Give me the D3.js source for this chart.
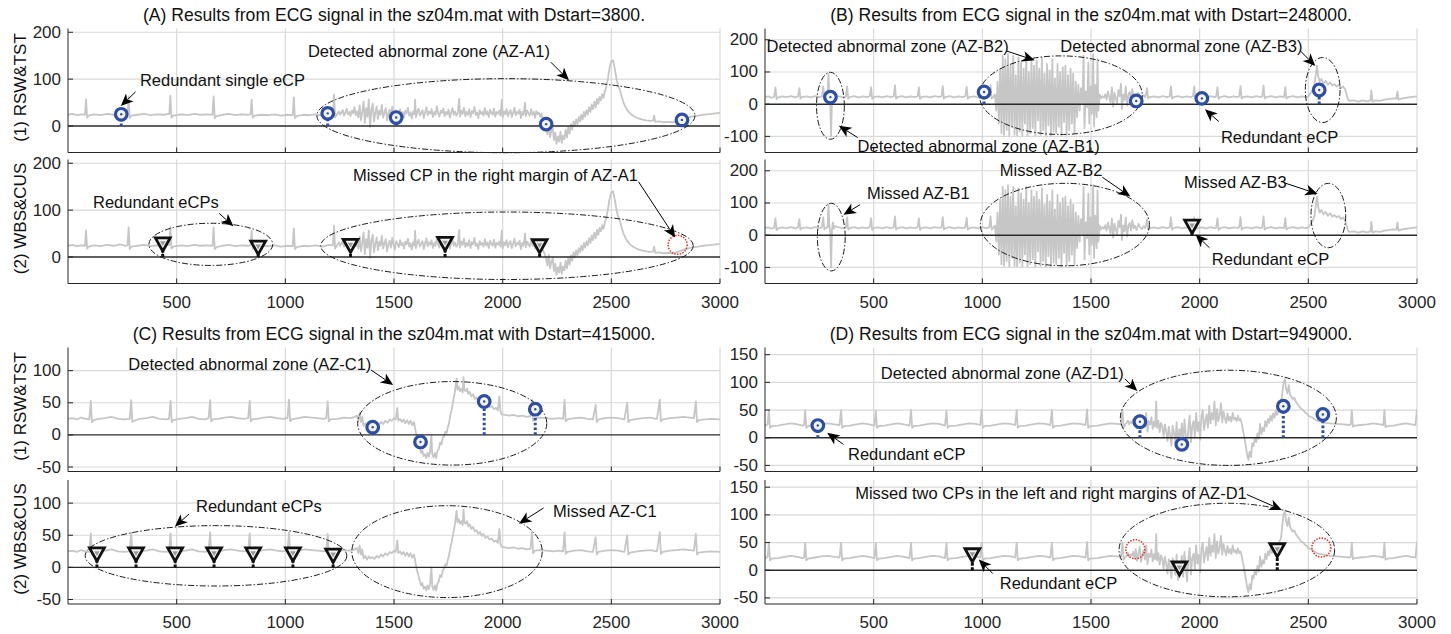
<!DOCTYPE html>
<html>
<head>
<meta charset="utf-8">
<script src="https://cdn.jsdelivr.net/npm/d3@7"></script>
<style>
  html, body { margin: 0; padding: 0; background: #fff; }
  svg { display: block; font-family: "Liberation Sans", Arial, Helvetica, sans-serif; }
</style>
</head>
<body>
<svg id="fig" width="1451" height="634"></svg>
<script>
// ---------------------------------------------------------------------------
// ECG excerpts (sample index, amplitude), one record per panel
// ---------------------------------------------------------------------------
const sigA = [
  [0,24],[20,26],[40,23],[60,25],[78,24],[83,57],[88,18],[95,22],[120,25],[150,23],[180,26],[210,24],[240,27],[260,24],[274,25],[279,63],[284,17],[292,22],
  [320,24],[350,26],[380,23],[410,25],[440,24],[466,26],[471,64],[476,18],[484,22],[520,25],[550,23],[580,26],[610,24],[640,25],[665,24],[670,63],[675,17],[683,21],
  [710,24],[740,26],[770,23],[800,25],[825,24],[840,25],[845,56],[850,18],[858,22],[890,24],[920,23],[950,25],[980,22],[1010,24],[1034,23],[1039,61],[1044,17],[1052,21],
  [1080,24],[1110,23],[1140,25],[1170,22],[1200,26],[1219,25],[1224,67],[1229,18],[1237,24],
  [1240,27],[1246,31],[1252,24],[1258,29],[1264,34],[1270,22],[1276,28],[1282,37],[1288,25],[1294,30],[1300,21],[1306,33],[1312,27],[1318,40],[1324,23],[1330,31],[1336,18],
  [1342,44],[1348,12],[1354,30],[1360,52],[1366,6],[1372,38],[1378,20],[1384,57],[1390,-2],[1396,35],[1402,48],[1408,10],[1414,28],[1420,42],
  [1426,15],[1432,33],[1438,24],[1444,45],[1450,18],[1456,29],[1462,38],[1468,12],[1474,27],[1480,35],[1486,20],[1492,41],[1498,26],[1504,16],[1510,34],[1516,28],
  [1522,21],[1528,36],[1534,25],[1540,30],[1546,18],[1552,33],[1558,27],[1564,39],[1570,22],[1576,29],[1582,16],[1588,31],[1594,25],[1597,56],[1601,19],[1607,30],
  [1613,37],[1619,22],[1625,28],[1631,34],[1637,17],[1643,29],[1649,40],[1655,23],[1661,31],[1667,26],[1673,36],[1679,19],[1685,30],[1691,24],[1697,42],[1703,27],
  [1709,20],[1715,33],[1721,28],[1727,37],[1733,21],[1739,30],[1745,25],[1751,35],[1757,18],[1763,29],[1769,38],[1775,24],[1781,31],[1787,22],[1793,27],[1800,58],
  [1804,20],[1810,33],[1816,26],[1822,39],[1828,21],[1834,30],[1840,24],[1846,36],[1852,19],[1858,32],[1864,27],[1870,41],[1876,23],[1882,29],[1888,17],[1894,34],
  [1900,26],[1906,30],[1912,22],[1918,38],[1924,25],[1930,31],[1936,19],[1942,35],[1948,28],[1954,24],[1960,37],[1966,20],[1972,30],[1978,26],[1984,33],[1990,22],
  [1996,56],[2000,18],[2006,31],[2012,25],[2018,36],[2024,21],[2030,29],[2036,34],[2042,19],[2048,28],[2054,39],[2060,23],[2066,30],[2072,26],[2078,35],[2084,17],
  [2090,30],[2096,24],[2103,50],[2107,21],[2113,33],[2119,27],[2125,22],[2131,36],[2137,24],[2143,30],[2149,18],[2155,32],[2161,25],[2167,29],[2173,19],[2179,27],[2185,14],
  [2194,6],[2200,-4],[2206,-18],[2212,5],[2218,-24],[2224,-10],[2230,-2],[2236,-30],[2242,-14],[2248,-38],[2254,-22],[2260,-33],[2266,-12],[2272,-36],[2278,-20],
  [2284,-28],[2290,-8],[2296,-24],[2302,-2],[2308,-16],[2314,4],[2320,-8],[2326,10],[2332,0],[2338,14],[2344,4],[2350,19],[2356,10],[2362,24],[2368,14],[2374,30],
  [2380,20],[2386,34],[2392,25],[2398,40],[2404,30],[2410,46],[2416,36],[2422,52],[2428,40],[2434,58],[2440,47],[2446,62],[2452,55],[2458,68],[2464,60],[2470,74],
  [2476,82],[2484,100],[2492,125],[2500,138],[2508,140],[2516,122],[2524,100],[2532,85],[2540,76],[2548,62],[2556,50],[2564,42],[2572,35],
  [2584,28],[2600,22],[2620,17],[2640,14],[2660,12],[2680,11],[2693,12],[2697,22],[2702,9],[2720,10],[2740,8],[2760,9],[2780,8],[2800,10],[2820,13],[2840,17],
  [2860,19],[2880,21],[2900,22],[2920,24],[2940,25],[2960,26],[2980,27],[3000,28]
];

const sigB = [
  [0,22],[15,24],[30,20],[42,23],[48,52],[53,16],[60,21],[80,24],[100,22],[120,25],[140,21],[152,24],[158,50],[163,17],[170,22],[190,24],[210,21],[230,25],[250,22],
  [262,24],[268,55],[273,18],[280,22],[288,25],[292,95],[296,30],[300,10],[304,-100],[308,15],[312,40],[316,20],[322,28],
  [340,24],[360,21],[372,24],[378,55],[383,17],[390,22],[410,25],[430,21],[450,24],[470,22],[482,25],[488,53],[493,16],[500,22],[520,24],[540,21],[560,25],[580,22],
  [592,24],[598,58],[603,17],[610,22],[630,25],[650,21],[670,24],[690,22],[702,24],[708,52],[713,16],[720,22],[740,24],[760,21],[780,25],[800,23],[812,24],[818,56],
  [823,17],[830,22],[850,25],[870,21],[890,24],[910,22],[922,25],[928,54],[933,17],[940,22],[960,24],[980,21],[1000,25],[1020,22],[1032,24],[1038,58],[1043,17],[1050,22],
  [1058,30],[1064,-20],[1070,70],[1076,-60],[1082,110],[1088,-90],[1094,150],[1100,-95],[1106,140],[1112,-80],[1118,155],[1124,-97],[1130,120],[1136,-70],[1142,150],
  [1148,-95],[1154,90],[1160,-97],[1166,145],[1172,-85],[1178,130],[1184,-97],[1190,110],[1196,-60],[1202,150],[1208,-97],[1214,100],[1220,-90],[1226,140],[1232,-75],
  [1238,120],[1244,-97],[1250,135],[1256,-50],[1262,110],[1268,-95],[1274,145],[1280,-80],[1286,95],[1292,-97],[1298,125],[1304,-65],[1310,105],[1316,-97],[1322,140],
  [1328,-85],[1334,80],[1340,-90],[1346,125],[1352,-70],[1358,100],[1364,-97],[1370,115],[1376,-55],[1382,120],[1388,-95],[1394,90],[1400,-80],[1406,110],[1412,-60],
  [1418,95],[1424,-90],[1430,70],[1436,-40],[1442,60],[1448,-20],[1454,50],[1460,0],[1466,150],[1470,-75],[1476,40],[1482,-10],[1488,130],[1492,-60],[1498,55],
  [1504,-30],[1510,155],[1514,-70],[1520,60],[1526,-40],[1530,140],[1534,-20],[1540,30],[1546,18],[1552,25],
  [1560,20],[1566,31],[1572,14],[1578,40],[1584,22],[1590,5],[1596,52],[1602,-8],[1608,36],[1614,18],[1620,2],[1626,44],[1632,25],[1638,64],[1642,-15],[1648,30],
  [1654,12],[1660,55],[1666,-4],[1672,28],[1678,38],[1684,14],[1690,47],[1696,21],[1702,30],[1710,16],[1718,35],[1726,24],[1734,19],[1742,28],[1750,22],[1758,50],
  [1763,18],[1770,22],[1790,24],[1810,21],[1830,25],[1850,22],[1862,24],[1868,55],[1873,17],[1880,22],[1900,25],[1920,21],[1940,24],[1960,22],[1969,24],[1975,55],
  [1980,17],[1988,22],[2010,24],[2030,21],[2050,25],[2070,22],[2076,24],[2082,52],[2087,16],[2094,22],[2115,25],[2135,21],[2155,24],[2175,22],[2182,25],[2188,56],
  [2193,17],[2200,22],[2220,24],[2240,21],[2260,25],[2280,22],[2288,24],[2294,58],[2299,17],[2306,22],[2330,25],[2350,21],[2370,24],[2388,22],[2394,53],[2399,17],
  [2406,22],[2430,25],[2450,21],[2470,24],[2490,22],[2500,24],[2510,35],[2520,45],[2528,60],[2534,90],[2540,120],[2546,85],[2552,70],[2560,78],[2570,65],[2580,72],
  [2590,60],[2600,68],[2610,58],[2620,62],[2630,55],[2640,60],[2650,50],[2660,55],[2670,45],[2676,30],[2682,15],[2690,10],[2710,12],[2730,8],[2750,12],[2770,9],
  [2786,12],[2790,42],[2795,8],[2810,12],[2830,10],[2850,14],[2870,16],[2890,18],[2905,17],[2910,40],[2915,14],[2930,18],[2950,20],[2970,22],[3000,24]
];

const sigC = [
  [0,25],[20,26],[40,24],[60,27],[80,25],[98,24],[105,53],[110,20],[118,23],[140,25],[170,26],[200,28],[230,25],[260,24],[284,25],[291,54],[296,20],[304,22],
  [330,25],[360,26],[390,28],[420,25],[450,24],[465,25],[472,53],[477,20],[485,23],[510,25],[540,26],[570,28],[600,25],[630,24],[647,26],[654,54],[659,21],[667,24],
  [690,25],[720,27],[750,28],[780,26],[810,25],[829,26],[836,53],[841,21],[849,24],[870,25],[900,27],[930,28],[960,26],[990,25],[1010,26],[1017,55],[1022,21],[1030,24],
  [1060,26],[1090,28],[1120,27],[1150,26],[1175,25],[1188,26],[1195,52],[1200,21],[1208,24],[1240,25],[1270,27],[1300,26],[1320,28],
  [1330,30],[1336,22],[1342,34],[1348,20],[1354,28],[1360,14],[1368,18],[1376,12],[1384,17],[1392,14],[1400,16],[1410,13],[1420,18],[1430,15],[1440,20],[1450,17],
  [1460,22],[1470,19],[1480,24],[1490,22],[1500,26],[1508,24],[1515,42],[1520,22],[1528,25],[1536,20],[1544,24],[1552,18],[1560,23],[1568,17],[1576,22],[1584,15],
  [1592,20],[1600,5],[1606,-5],[1612,-12],[1618,-20],[1624,-28],[1630,-24],[1636,-33],[1642,-30],[1648,-36],[1654,-28],[1660,-34],[1666,-26],[1672,0],[1676,-30],
  [1682,-35],[1688,-28],[1694,-36],[1700,-25],[1706,-22],[1712,-12],[1718,-15],[1724,-5],[1730,-2],[1736,5],[1742,3],[1748,12],[1754,20],[1760,32],[1766,40],
  [1772,52],[1778,62],[1784,78],[1788,88],[1792,70],[1798,75],[1804,68],[1810,72],[1816,66],[1820,90],[1824,70],[1830,68],[1836,72],[1842,64],[1848,67],[1856,60],
  [1864,63],[1872,56],[1880,58],[1888,52],[1896,55],[1904,49],[1912,52],[1920,46],[1930,48],[1940,43],[1950,45],[1960,40],[1970,42],[1978,38],[1985,60],[1990,36],
  [1996,32],[2010,31],[2030,30],[2050,31],[2070,29],[2090,30],[2110,28],[2128,29],[2135,55],[2140,22],[2148,26],[2170,27],[2200,26],[2230,25],[2260,26],[2278,25],
  [2285,55],[2290,21],[2298,24],[2330,26],[2360,27],[2390,25],[2415,24],[2428,47],[2433,20],[2441,24],[2470,26],[2500,27],[2530,26],[2560,24],[2573,50],[2578,20],
  [2586,23],[2620,25],[2650,26],[2680,27],[2710,25],[2723,55],[2728,21],[2736,24],[2770,26],[2800,27],[2830,28],[2860,27],[2880,26],[2889,52],[2894,20],[2902,23],
  [2930,24],[2960,25],[3000,24]
];

const sigD = [
  [0,22],[12,24],[18,50],[23,18],[31,21],[60,22],[90,24],[120,26],[150,24],[172,22],[180,23],[185,50],[190,18],[198,21],[230,23],[260,25],[290,26],[320,24],[343,23],
  [350,50],[355,18],[363,21],[390,22],[420,24],[450,26],[480,24],[503,22],[510,49],[515,18],[523,21],[550,22],[580,24],[610,26],[640,24],[665,22],[672,50],[677,18],
  [685,21],[710,22],[740,24],[770,26],[800,25],[828,22],[835,49],[840,18],[848,21],[880,22],[910,24],[940,26],[970,25],[990,23],[997,50],[1002,18],[1010,21],
  [1040,22],[1070,24],[1100,26],[1130,25],[1151,23],[1158,50],[1163,18],[1171,21],[1200,22],[1230,24],[1260,26],[1290,25],[1313,23],[1320,50],[1325,18],[1333,21],
  [1360,22],[1390,24],[1420,26],[1450,25],[1475,23],[1482,51],[1487,18],[1495,21],[1530,22],[1560,24],[1590,26],[1620,25],[1638,24],[1645,50],[1650,19],[1658,24],
  [1664,27],[1670,31],[1676,24],[1682,29],[1688,26],[1694,33],[1700,22],[1706,38],[1712,17],[1718,30],[1724,42],[1730,15],[1736,28],[1742,36],[1748,19],[1754,45],
  [1760,11],[1766,30],[1772,24],[1778,37],[1784,16],[1790,29],[1795,20],[1800,65],[1804,18],[1810,31],[1816,10],[1822,27],[1828,20],[1834,3],[1840,24],[1846,12],
  [1852,-6],[1858,20],[1864,5],[1870,-14],[1876,22],[1882,8],[1888,-8],[1894,28],[1900,-18],[1906,15],[1912,2],[1918,26],[1924,-12],[1930,33],[1936,5],[1942,-20],
  [1948,18],[1954,40],[1960,-8],[1966,22],[1972,30],[1978,2],[1984,45],[1990,12],[1996,28],[2002,-4],[2008,38],[2014,50],[2020,14],[2026,30],[2032,42],[2038,18],
  [2044,58],[2050,26],[2056,45],[2062,33],[2068,65],[2074,22],[2080,52],[2086,30],[2092,40],[2098,62],[2104,28],[2110,47],[2116,35],[2122,27],[2128,44],[2134,31],
  [2140,38],[2146,29],[2152,45],[2158,33],[2164,36],[2170,30],[2176,40],[2182,31],[2188,34],[2194,25],[2200,12],[2206,0],[2212,-15],[2218,-30],[2224,-40],[2230,-25],
  [2236,-35],[2242,-10],[2248,-15],[2254,0],[2260,-8],[2266,8],[2272,-2],[2278,25],[2284,6],[2290,18],[2296,12],[2302,30],[2308,20],[2314,34],[2320,27],[2326,40],
  [2332,31],[2338,44],[2344,36],[2350,50],[2356,41],[2362,47],[2368,53],[2374,57],[2380,80],[2386,100],[2392,106],[2398,88],[2404,80],[2410,95],[2416,78],[2422,74],
  [2428,70],[2436,72],[2444,64],[2452,60],[2460,56],[2468,52],[2476,50],[2484,46],[2492,44],[2500,40],[2510,38],[2520,36],[2530,33],[2545,30],[2560,29],[2580,27],
  [2600,26],[2630,25],[2660,24],[2690,23],[2695,24],[2700,50],[2705,20],[2713,22],[2740,23],[2770,24],[2800,26],[2830,24],[2845,23],[2850,50],[2855,19],[2863,21],
  [2890,22],[2920,24],[2950,26],[2975,24],[2993,23],[3000,52]
];

// Estimated change points: RSW&TST (blue circles), WBS&CUS (triangles), missed CPs (red)
const cpA1 = [[245,25],[1195,27],[1510,18],[2200,4],[2825,13]];
const cpA2 = [[436,28],[875,21],[1300,25],[1735,29],[2170,24]];
const missA2 = [[2805,26]];
const cpB1 = [[301,22],[1008,38],[1708,10],[2010,18],[2550,44]];
const cpB2 = [[1965,28]];
const cpC1 = [[1402,12],[1622,-11],[1915,52],[2150,40]];
const cpC2 = [[133,21],[313,21],[493,21],[672,21],[852,21],[1035,21],[1220,19]];
const cpD1 = [[243,22],[1725,29],[1918,-12],[2385,57],[2567,42]];
const cpD2 = [[954,28],[1907,4],[2357,37]];
const missD2 = [[1704,38],[2560,41]];

// Axis ticks
const xTicks = [500, 1000, 1500, 2000, 2500, 3000];
const yTicksA = [0, 100, 200];
const yTicksB = [-100, 0, 100, 200];
const yTicksC = [-50, 0, 50, 100];
const yTicksD = [-50, 0, 50, 100, 150];

// Zone outlines [cx, cy, rx, ry] in data units
const zonesA1 = [[2015,22,870,79]];
const zonesA2 = [[657,27,285,45],[2020,24,857,72]];
const zonesB1 = [[301,-5,64,104],[1361,28,375,122],[2566,44,80,101]];
const zonesB2 = [[305,-6,64,105],[1380,33,389,128],[2592,61,80,100]];
const zonesC1 = [[1768,18,435,65]];
const zonesC2 = [[681,18,602,47],[1744,24.5,438,71.5]];
const zonesD1 = [[2132,36,497,86]];
const zonesD2 = [[2125,36.5,496,84.5]];

// Callouts: label start (x, y) and arrow [tailX, tailY, headX, headY], data units
const notesA1 = [
  {t: "Redundant single eCP", x: 331, y: 97.5, a: [311, 73, 243, 42.5]},
  {t: "Detected abnormal zone (AZ-A1)", x: 1104, y: 161, a: [2222, 136, 2305, 97.5]}
];
const notesA2 = [
  {t: "Redundant eCPs", x: 115, y: 117.8, a: [696, 93, 761, 65.5]},
  {t: "Missed CP in the right margin of AZ-A1", x: 1311, y: 175, a: [2625, 160.6, 2794, 41.5]}
];
const notesB1 = [
  {t: "Detected abnormal zone (AZ-B2)", x: 7, y: 180.7, a: [1112, 165, 1241, 136.3]},
  {t: "Detected abnormal zone (AZ-B3)", x: 1359, y: 180.7, a: [2464, 165, 2532, 118.7]},
  {t: "Detected abnormal zone (AZ-B1)", x: 426, y: -129, a: [426, -103.5, 340, -67]},
  {t: "Redundant eCP", x: 2098, y: -101, a: [2088, -54, 2024, -15.5]}
];
const notesB2 = [
  {t: "Missed AZ-B1", x: 469, y: 130.5, a: [437, 94.5, 361, 63.7]},
  {t: "Missed AZ-B2", x: 1080, y: 202, a: [1552, 180, 1681, 120]},
  {t: "Missed AZ-B3", x: 1927.5, y: 166, a: [2388, 163, 2543, 128]},
  {t: "Redundant eCP", x: 2056, y: -75, a: [2045, -39, 1981, 2]}
];
const notesC1 = [
  {t: "Detected abnormal zone (AZ-C1)", x: 277.5, y: 111, a: [1394, 101, 1496, 77.6]}
];
const notesC2 = [
  {t: "Redundant eCPs", x: 589, y: 96, a: [557, 83.1, 492, 63.5]},
  {t: "Missed AZ-C1", x: 2232, y: 88, a: [2188, 92.4, 2075, 68]}
];
const notesD1 = [
  {t: "Detected abnormal zone (AZ-D1)", x: 533, y: 117.5, a: [1655, 106.7, 1713, 84.3]},
  {t: "Redundant eCP", x: 382, y: -30, a: [361, -12, 286, 9]}
];
const notesD2 = [
  {t: "Missed two CPs in the left and right margins of AZ-D1", x: 415, y: 140, a: [2217, 136.8, 2378, 109]},
  {t: "Redundant eCP", x: 1080, y: -22.8, a: [1048, -6, 983.5, 19.3]}
];

// ---------------------------------------------------------------------------
// Figure layout
// ---------------------------------------------------------------------------
const FONT_NOTE = 16.5, FONT_TICK = 17, FONT_TITLE = 17.6, FONT_YLAB = 17;
const colX = [[68, 720], [765, 1417]];
const rowY = [[[28.5, 152.5], [159.5, 283.5]], [[347.5, 471.5], [480, 604]]];
const titleY = [15, 334];
const subLabels = ["(1) RSW&TST", "(2) WBS&CUS"];

const panels = [
  {title: "(A) Results from ECG signal in the sz04m.mat with Dstart=3800.", col: 0, row: 0, yDomain: [-56.5, 208], yTicks: yTicksA, signal: sigA,
   subs: [{cp: cpA1, kind: "rsw", miss: [], zones: zonesA1, notes: notesA1},
          {cp: cpA2, kind: "wbs", miss: missA2, zones: zonesA2, notes: notesA2}]},
  {title: "(B) Results from ECG signal in the sz04m.mat with Dstart=248000.", col: 1, row: 0, yDomain: [-150, 235], yTicks: yTicksB, signal: sigB,
   subs: [{cp: cpB1, kind: "rsw", miss: [], zones: zonesB1, notes: notesB1},
          {cp: cpB2, kind: "wbs", miss: [], zones: zonesB2, notes: notesB2}]},
  {title: "(C) Results from ECG signal in the sz04m.mat with Dstart=415000.", col: 0, row: 1, yDomain: [-57, 136], yTicks: yTicksC, signal: sigC,
   subs: [{cp: cpC1, kind: "rsw", miss: [], zones: zonesC1, notes: notesC1},
          {cp: cpC2, kind: "wbs", miss: [], zones: zonesC2, notes: notesC2}]},
  {title: "(D) Results from ECG signal in the sz04m.mat with Dstart=949000.", col: 1, row: 1, yDomain: [-61, 163], yTicks: yTicksD, signal: sigD,
   subs: [{cp: cpD1, kind: "rsw", miss: [], zones: zonesD1, notes: notesD1},
          {cp: cpD2, kind: "wbs", miss: missD2, zones: zonesD2, notes: notesD2}]}
];

const C = {
  signal: "#c6c6c6", grid: "#d9d9d9", axis: "#262626", zero: "#2a2a2a",
  blue: "#2c4ea3", tri: "#111111", miss: "#e3261f", ink: "#111111"
};

const svg = d3.select("#fig");
svg.append("rect").attr("width", 1451).attr("height", 634).attr("fill", "#fff");
const defs = svg.append("defs");

function arrow(g, x1, y1, x2, y2) {
  const ang = Math.atan2(y2 - y1, x2 - x1);
  const L = 12.5, w = 5.5, notch = 3.4;
  const ca = Math.cos(ang), sa = Math.sin(ang);
  const pt = (u, v) => [x2 + u * ca - v * sa, y2 + u * sa + v * ca];
  g.append("line")
    .attr("x1", x1).attr("y1", y1)
    .attr("x2", pt(-L + notch, 0)[0]).attr("y2", pt(-L + notch, 0)[1])
    .attr("stroke", "#000").attr("stroke-width", 1);
  g.append("path")
    .attr("d", "M" + [pt(0, 0), pt(-L, -w), pt(-L + notch, 0), pt(-L, w)].map(p => p.join(",")).join("L") + "Z")
    .attr("fill", "#000");
}

panels.forEach((p, pi) => {
  const [x0, x1] = colX[p.col];
  const x = d3.scaleLinear().domain([0, 3000]).range([x0, x1]);

  // panel title
  svg.append("text")
    .attr("x", (x0 + x1) / 2).attr("y", titleY[p.row])
    .attr("text-anchor", "middle").attr("dominant-baseline", "central")
    .attr("font-size", FONT_TITLE).attr("fill", C.ink)
    .text(p.title);

  p.subs.forEach((s, si) => {
    const [yTop, yBot] = rowY[p.row][si];
    const y = d3.scaleLinear().domain(p.yDomain).range([yBot, yTop]);
    const g = svg.append("g");
    const clipId = "clip" + pi + "_" + si;
    defs.append("clipPath").attr("id", clipId)
      .append("rect").attr("x", x0).attr("y", yTop).attr("width", x1 - x0).attr("height", yBot - yTop);

    // grid
    g.append("g").selectAll("line").data(xTicks).join("line")
      .attr("x1", d => x(d)).attr("x2", d => x(d)).attr("y1", yTop).attr("y2", yBot)
      .attr("stroke", C.grid).attr("stroke-width", 1.2);
    g.append("g").selectAll("line").data(p.yTicks.filter(t => t !== 0)).join("line")
      .attr("x1", x0).attr("x2", x1).attr("y1", d => y(d)).attr("y2", d => y(d))
      .attr("stroke", C.grid).attr("stroke-width", 1.2);

    // ECG trace
    const line = d3.line().x(d => x(d[0])).y(d => y(d[1]));
    g.append("path").datum(p.signal)
      .attr("clip-path", "url(#" + clipId + ")")
      .attr("d", line).attr("fill", "none")
      .attr("stroke", C.signal).attr("stroke-width", 1.8)
      .attr("stroke-linejoin", "round");

    // stem baseline
    g.append("line").attr("x1", x0).attr("x2", x1).attr("y1", y(0)).attr("y2", y(0))
      .attr("stroke", C.zero).attr("stroke-width", 1.4);

    // zone outlines
    g.append("g").selectAll("ellipse").data(s.zones).join("ellipse")
      .attr("cx", d => x(d[0])).attr("cy", d => y(d[1]))
      .attr("rx", d => x(d[0] + d[2]) - x(d[0])).attr("ry", d => y(d[1]) - y(d[1] + d[3]))
      .attr("fill", "none").attr("stroke", "#1a1a1a").attr("stroke-width", 1)
      .attr("stroke-dasharray", "6,2,1.5,2");

    // stems + markers
    const stemG = g.append("g");
    if (s.kind === "rsw") {
      stemG.selectAll("line").data(s.cp.filter(d => d[1] > 0)).join("line")
        .attr("x1", d => x(d[0])).attr("x2", d => x(d[0]))
        .attr("y1", y(0)).attr("y2", d => y(d[1]))
        .attr("stroke", C.blue).attr("stroke-width", 3).attr("stroke-dasharray", "2.6,2.2");
      const mk = g.append("g").selectAll("g").data(s.cp).join("g")
        .attr("transform", d => `translate(${x(d[0])},${y(d[1])})`);
      mk.append("circle").attr("r", 5.8).attr("fill", "#f4f4f4")
        .attr("stroke", C.blue).attr("stroke-width", 3.2);
      mk.append("circle").attr("r", 1.2).attr("fill", C.blue);
    } else {
      stemG.selectAll("line").data(s.cp.filter(d => d[1] > 0)).join("line")
        .attr("x1", d => x(d[0])).attr("x2", d => x(d[0]))
        .attr("y1", y(0)).attr("y2", d => y(d[1]))
        .attr("stroke", C.tri).attr("stroke-width", 3).attr("stroke-dasharray", "3,1.6");
      const mk = g.append("g").selectAll("g").data(s.cp).join("g")
        .attr("transform", d => `translate(${x(d[0])},${y(d[1])})`);
      mk.append("path").attr("d", "M-7.4,-6L7.4,-6L0,7.2Z")
        .attr("fill", "#f4f4f4").attr("stroke", C.tri).attr("stroke-width", 2.8)
        .attr("stroke-linejoin", "miter");
      mk.append("path").attr("d", "M-2.8,-2.6L2.8,-2.6L0,2.2Z").attr("fill", "#9a9a9a");
      g.append("g").selectAll("circle").data(s.miss).join("circle")
        .attr("cx", d => x(d[0])).attr("cy", d => y(d[1])).attr("r", 9.5)
        .attr("fill", "none").attr("stroke", C.miss).attr("stroke-width", 1.5)
        .attr("stroke-dasharray", "1.4,1.4");
    }

    // axes: left + bottom lines with inward ticks
    g.append("line").attr("x1", x0).attr("x2", x0).attr("y1", yTop).attr("y2", yBot)
      .attr("stroke", C.axis).attr("stroke-width", 1);
    g.append("line").attr("x1", x0).attr("x2", x1).attr("y1", yBot).attr("y2", yBot)
      .attr("stroke", C.axis).attr("stroke-width", 1.2);
    g.append("g").selectAll("line").data(p.yTicks).join("line")
      .attr("x1", x0).attr("x2", x0 + 5).attr("y1", d => y(d)).attr("y2", d => y(d))
      .attr("stroke", C.axis).attr("stroke-width", 1);
    g.append("g").selectAll("line").data(xTicks).join("line")
      .attr("x1", d => x(d)).attr("x2", d => x(d)).attr("y1", yBot).attr("y2", yBot - 5)
      .attr("stroke", C.axis).attr("stroke-width", 1);

    g.append("g").selectAll("text").data(p.yTicks).join("text")
      .attr("x", x0 - 7).attr("y", d => y(d))
      .attr("text-anchor", "end").attr("dominant-baseline", "central")
      .attr("font-size", FONT_TICK).attr("fill", C.axis)
      .text(d => d);
    if (si === 1) {
      g.append("g").selectAll("text").data(xTicks).join("text")
        .attr("x", d => x(d)).attr("y", yBot + 18.5)
        .attr("text-anchor", "middle").attr("dominant-baseline", "central")
        .attr("font-size", FONT_TICK).attr("fill", C.axis)
        .text(d => d);
    }
    if (p.col === 0) {
      g.append("text")
        .attr("transform", `translate(20,${(yTop + yBot) / 2 - 3}) rotate(-90)`)
        .attr("text-anchor", "middle").attr("dominant-baseline", "central")
        .attr("font-size", FONT_YLAB).attr("fill", C.ink)
        .text(subLabels[si]);
    }

    // callouts
    s.notes.forEach(n => {
      g.append("text")
        .attr("x", x(n.x)).attr("y", y(n.y))
        .attr("dominant-baseline", "central")
        .attr("font-size", FONT_NOTE).attr("fill", C.ink)
        .text(n.t);
      arrow(g, x(n.a[0]), y(n.a[1]), x(n.a[2]), y(n.a[3]));
    });
  });
});
</script>
</body>
</html>
